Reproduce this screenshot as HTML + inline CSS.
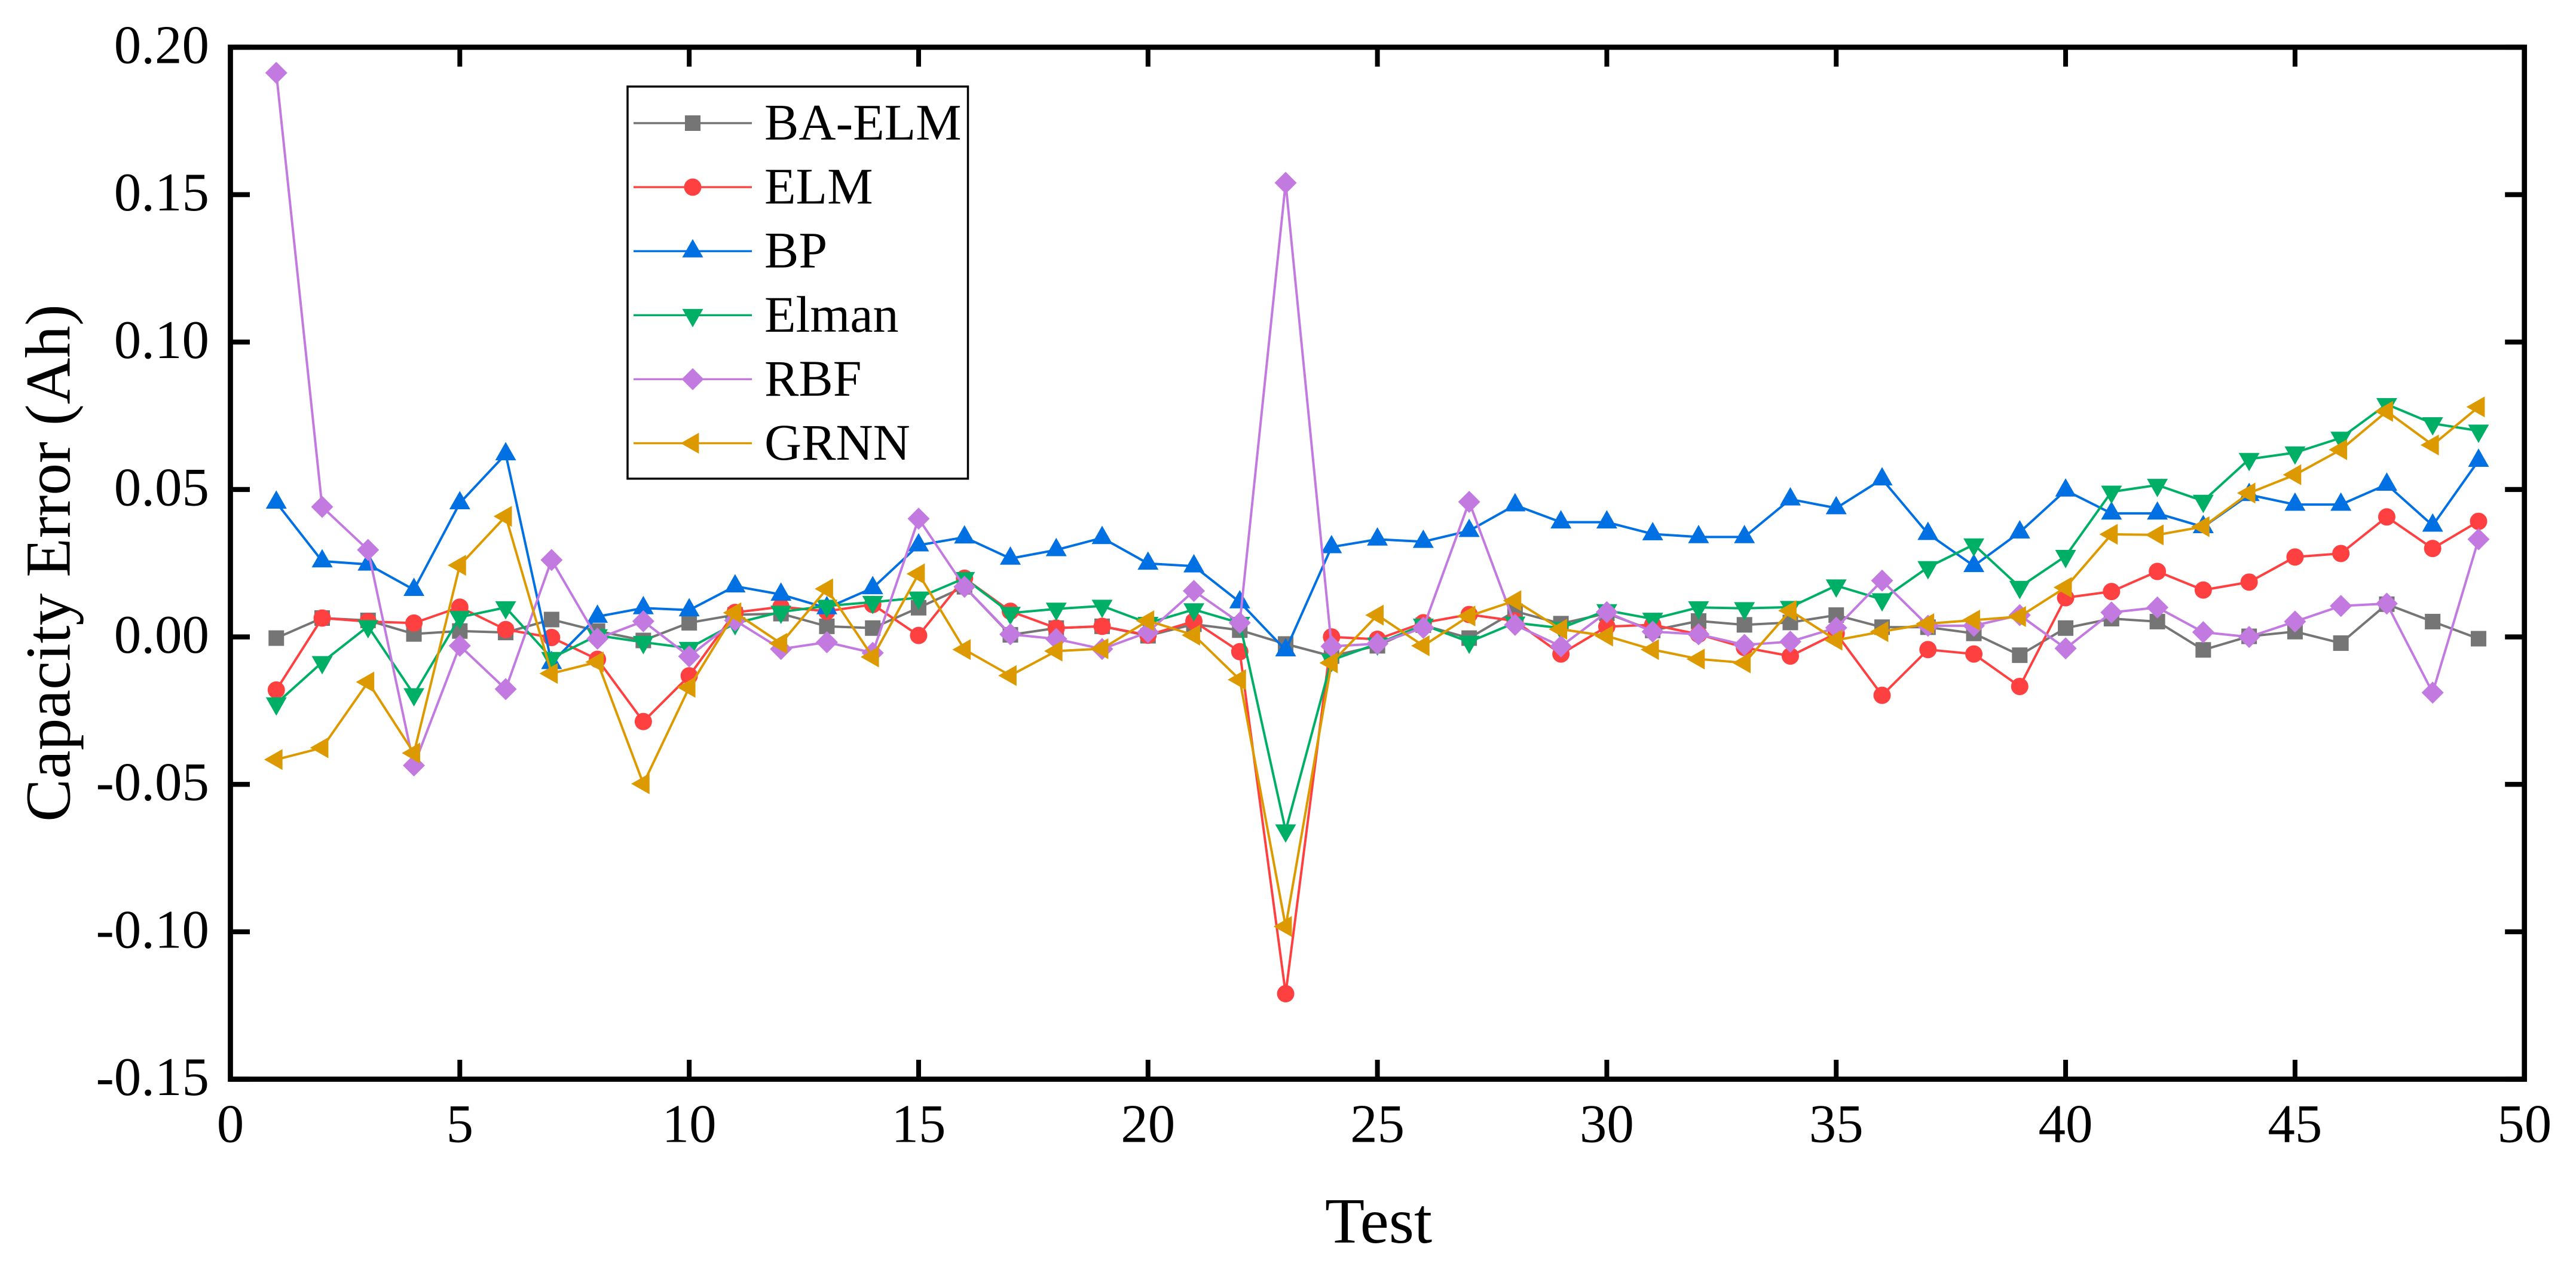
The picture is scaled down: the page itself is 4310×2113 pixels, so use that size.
<!DOCTYPE html>
<html>
<head>
<meta charset="utf-8">
<title>Capacity Error</title>
<style>
html,body{margin:0;padding:0;background:#fff;}
svg{display:block;}
text{font-family:"Liberation Serif",serif;fill:#000;}
</style>
</head>
<body>
<svg id="chart" xmlns="http://www.w3.org/2000/svg" width="4310" height="2113" viewBox="0 0 4310 2113">
<rect x="0" y="0" width="4310" height="2113" fill="#fff"/>
<g id="series-layer"></g>
<g id="axes-layer"></g>
<g id="legend-layer"></g>
<text transform="translate(116.7 942) rotate(-90)" text-anchor="middle" font-size="107.5">Capacity Error (Ah)</text>
<text x="2306.5" y="2079" text-anchor="middle" font-size="108.5">Test</text>
</svg>
<script>
const tests = [1,2,3,4,5,6,7,8,9,10,11,12,13,14,15,16,17,18,19,20,21,22,23,24,25,26,27,28,29,30,31,32,33,34,35,36,37,38,39,40,41,42,43,44,45,46,47,48,49];
const baElm = [-.0004,.0064,.0056,.001,.002,.0015,.0059,.002,-.0012,.0048,.0075,.0079,.0036,.003,.0099,.017,.0007,.003,.0036,.0004,.0043,.0023,-.0024,-.0065,-.003,.004,-.0004,.0087,.0045,.008,.0022,.0054,.0041,.0049,.0074,.0033,.0033,.0012,-.0062,.003,.0062,.0052,-.0044,.0002,.0018,-.0021,.0111,.0052,-.0006];
const elm = [-.018,.0064,.0052,.0047,.0101,.0025,-.0002,-.0076,-.0287,-.0132,.0083,.0102,.0087,.011,.0005,.0199,.0087,.003,.0036,.0006,.0053,-.005,-.121,0,-.0008,.0048,.0076,.0054,-.0058,.0035,.0041,.0009,-.0036,-.0065,.0012,-.0198,-.0043,-.0058,-.0168,.0133,.0154,.0222,.0159,.0186,.0271,.0283,.0407,.03,.0392];
const bp = [.0456,.0257,.0246,.016,.0454,.062,-.0088,.0069,.0098,.0091,.0172,.0144,.0098,.0166,.0311,.0338,.0266,.0295,.0336,.0249,.024,.0118,-.0045,.0305,.0331,.0323,.036,.0447,.0389,.0389,.0349,.0339,.0339,.0467,.0437,.0535,.035,.0241,.0355,.0497,.0419,.0419,.0373,.0482,.0449,.0449,.0517,.0378,.0598];
const elman = [-.0226,-.0086,.0036,-.0195,.0067,.01,-.0072,.0005,-.0018,-.0038,.0046,.0085,.0105,.0118,.0133,.0199,.0081,.0095,.0105,.0047,.0093,.0047,-.0657,-.0079,-.0023,.0041,-.0017,.0048,.003,.009,.0061,.01,.0097,.0101,.0174,.0127,.0236,.0313,.0169,.0274,.0492,.0515,.0461,.0603,.0625,.0675,.0789,.0724,.0699];
const rbf = [.1913,.0441,.0295,-.0436,-.003,-.0177,.0261,-.0006,.0053,-.0066,.0056,-.0041,-.0018,-.0054,.0401,.017,.0009,-.0007,-.0041,.0016,.0156,.0048,.154,-.0032,-.0023,.0031,.0458,.0041,-.0032,.0084,.0018,.0009,-.0027,-.0016,.0031,.0191,.0038,.0038,.0074,-.0039,.0083,.01,.0016,0,.0052,.0105,.0113,-.0189,.0331];
const grnn = [-.0416,-.0376,-.0153,-.0394,.0243,.0409,-.0124,-.0085,-.0498,-.0171,.0082,-.0022,.0163,-.0068,.0214,-.0043,-.0131,-.0048,-.004,.0055,.0006,-.0145,-.0982,-.0088,.0074,-.003,.0071,.0123,.0026,.0003,-.0043,-.0075,-.0088,.0089,-.0011,.0018,.0045,.0057,.0069,.0168,.0348,.0346,.0374,.0488,.055,.0635,.0765,.0651,.078];
const xTickValues = [0,5,10,15,20,25,30,35,40,45,50];
const yTickValues = [-0.15,-0.10,-0.05,0,0.05,0.10,0.15,0.20];
const yTickLabels = ["-0.15","-0.10","-0.05","0.00","0.05","0.10","0.15","0.20"];
const seriesNames = ["BA-ELM","ELM","BP","Elman","RBF","GRNN"];
const seriesValues = [baElm,elm,bp,elman,rbf,grnn];

const NS = "http://www.w3.org/2000/svg";
const plot = {left:385.5,right:4223.7,top:79,bottom:1805.5,xMin:0,xMax:50,yMin:-0.15,yMax:0.20};
const colors = ["#757575","#FF4040","#0070E2","#00AF66","#C27AE0","#DD9A00"];
const shapes = ["square","circle","up","down","diamond","left"];
function xScale(v){return plot.left+(v-plot.xMin)/(plot.xMax-plot.xMin)*(plot.right-plot.left);}
function yScale(v){return plot.bottom-(v-plot.yMin)/(plot.yMax-plot.yMin)*(plot.bottom-plot.top);}
function node(tag,parent,attrs){
  const n=document.createElementNS(NS,tag);
  for(const k in attrs){n.setAttribute(k,attrs[k]);}
  parent.appendChild(n);
  return n;
}
function marker(parent,shape,cx,cy,color){
  let el;
  if(shape==="square"){el=node("rect",parent,{x:cx-13,y:cy-13,width:26,height:26,fill:color});}
  else if(shape==="circle"){el=node("circle",parent,{cx:cx,cy:cy,r:14.5,fill:color});}
  else{
    let pts;
    if(shape==="up"){pts=[[cx,cy-20.3],[cx+17.5,cy+10.4],[cx-17.5,cy+10.4]];}
    else if(shape==="down"){pts=[[cx,cy+20.3],[cx+17.5,cy-10.4],[cx-17.5,cy-10.4]];}
    else if(shape==="diamond"){pts=[[cx,cy-18.5],[cx+18.5,cy],[cx,cy+18.5],[cx-18.5,cy]];}
    else{pts=[[cx-20.3,cy],[cx+10.4,cy-17.5],[cx+10.4,cy+17.5]];}
    el=node("polygon",parent,{points:pts.map(p=>p.join(",")).join(" "),fill:color});
  }
  
  
  return el;
}

const seriesLayer=document.getElementById("series-layer");
seriesValues.forEach(function(values,i){
  const g=node("g",seriesLayer,{});
  
  
  const pts=values.map(function(v,j){return xScale(tests[j]).toFixed(2)+","+yScale(v).toFixed(2);}).join(" ");
  const line=node("polyline",g,{points:pts,fill:"none",stroke:colors[i],"stroke-width":4,"stroke-linejoin":"miter"});
  
  
  values.forEach(function(v,j){marker(g,shapes[i],xScale(tests[j]),yScale(v),colors[i]);});
});

const axes=document.getElementById("axes-layer");
const frame=node("rect",axes,{x:plot.left,y:plot.top,width:plot.right-plot.left,height:plot.bottom-plot.top,fill:"none",stroke:"#000","stroke-width":8.7});


const tickLen=32.5;
xTickValues.forEach(function(v){
  const x=xScale(v);
  const t1=node("line",axes,{x1:x,x2:x,y1:plot.bottom,y2:plot.bottom-tickLen,stroke:"#000","stroke-width":8});
  
  
  const t2=node("line",axes,{x1:x,x2:x,y1:plot.top,y2:plot.top+tickLen,stroke:"#000","stroke-width":8});
  
  
  const lab=node("text",axes,{x:x,y:1910.5,"text-anchor":"middle","font-size":91});
  lab.textContent=String(v);
  
  
});
yTickValues.forEach(function(v,i){
  const y=yScale(v);
  const t1=node("line",axes,{x1:plot.left,x2:plot.left+tickLen,y1:y,y2:y,stroke:"#000","stroke-width":8.3});
  
  
  const t2=node("line",axes,{x1:plot.right,x2:plot.right-tickLen,y1:y,y2:y,stroke:"#000","stroke-width":8.3});
  
  
  const lab=node("text",axes,{x:350,y:y+26.5,"text-anchor":"end","font-size":91});
  lab.textContent=yTickLabels[i];
  
  
});

const legend=document.getElementById("legend-layer");
const box=node("rect",legend,{x:1050,y:144.8,width:569.5,height:656,fill:"#fff",stroke:"#000","stroke-width":3.5});


seriesNames.forEach(function(name,i){
  const y=206+i*107.1;
  const g=node("g",legend,{});
  
  
  const l=node("line",g,{x1:1060,x2:1258,y1:y,y2:y,stroke:colors[i],"stroke-width":3.4});
  
  
  marker(g,shapes[i],1159,y,colors[i]);
  const t=node("text",g,{x:1279,y:y+27.5,"font-size":86});
  t.textContent=name;
  
  
});
</script>
</body>
</html>
